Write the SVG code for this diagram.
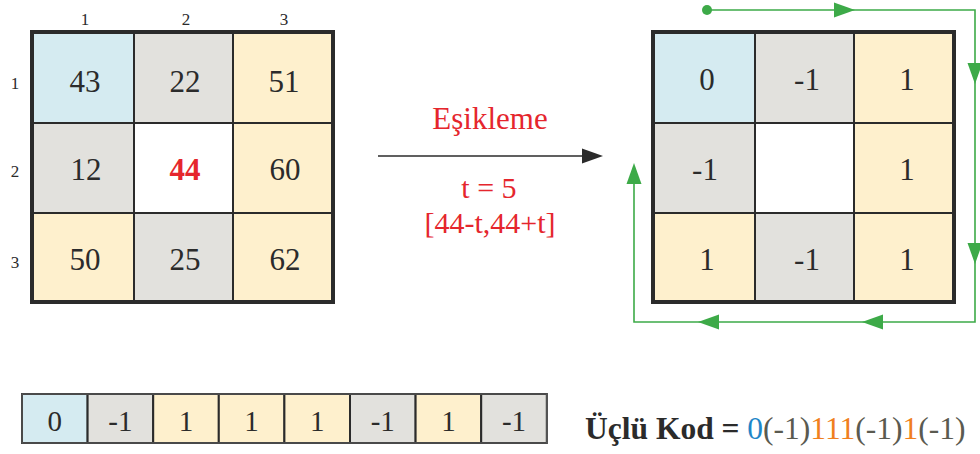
<svg xmlns="http://www.w3.org/2000/svg" width="980" height="454" viewBox="0 0 980 454">
<style>
.c{stroke:#2b2b2b;stroke-width:2}
.b{fill:#d5ebf1}.g{fill:#e2e1dd}.y{fill:#fef0cd}.w{fill:#ffffff}
text{font-family:"Liberation Serif","Times New Roman","DejaVu Serif",serif}
.t{font-size:31px;fill:#2b2b2b;text-anchor:middle}
.s{font-size:17px;fill:#2b2b2b;text-anchor:middle}
.r{font-size:31px;fill:#e5262d;text-anchor:middle}
.frame{fill:none;stroke:#2b2b2b;stroke-width:4}
.gl{fill:none;stroke:#3daa48;stroke-width:1.6}
.ga{fill:#3daa48}
</style>
<defs>
<path id="ah" d="M0,0 L-21,-7.5 L-21,7.5 Z"/>
</defs>
<rect width="980" height="454" fill="#ffffff"/>
<g id="labels">
<text class="s" x="85" y="25">1</text>
<text class="s" x="186" y="25">2</text>
<text class="s" x="284" y="25">3</text>
<text class="s" x="15" y="89">1</text>
<text class="s" x="15" y="177">2</text>
<text class="s" x="15" y="268">3</text>
</g>
<g id="left-grid">
<g id="L11"><rect class="c b" x="32" y="32" width="102" height="91"/><text class="t" x="85" y="92">43</text></g>
<g id="L12"><rect class="c g" x="134" y="32" width="99" height="91"/><text class="t" x="185" y="92">22</text></g>
<g id="L13"><rect class="c y" x="233" y="32" width="100" height="91"/><text class="t" x="284" y="92">51</text></g>
<g id="L21"><rect class="c g" x="32" y="123" width="102" height="90"/><text class="t" x="86" y="180">12</text></g>
<g id="L22"><rect class="c w" x="134" y="123" width="99" height="90"/><text class="t" x="185" y="180" style="font-weight:bold;fill:#e5262d">44</text></g>
<g id="L23"><rect class="c y" x="233" y="123" width="100" height="90"/><text class="t" x="285" y="180">60</text></g>
<g id="L31"><rect class="c y" x="32" y="213" width="102" height="89"/><text class="t" x="85" y="270">50</text></g>
<g id="L32"><rect class="c g" x="134" y="213" width="99" height="89"/><text class="t" x="185" y="270">25</text></g>
<g id="L33"><rect class="c y" x="233" y="213" width="100" height="89"/><text class="t" x="285" y="270">62</text></g>
<rect class="frame" x="32" y="32" width="301" height="270"/>
</g>
<g id="right-grid">
<g id="R11"><rect class="c b" x="653" y="32" width="102" height="91"/><text class="t" x="707" y="90">0</text></g>
<g id="R12"><rect class="c g" x="755" y="32" width="99" height="91"/><text class="t" x="807" y="90">-1</text></g>
<g id="R13"><rect class="c y" x="854" y="32" width="100" height="91"/><text class="t" x="907" y="90">1</text></g>
<g id="R21"><rect class="c g" x="653" y="123" width="102" height="90"/><text class="t" x="705" y="180">-1</text></g>
<g id="R22"><rect class="c w" x="755" y="123" width="99" height="90"/></g>
<g id="R23"><rect class="c y" x="854" y="123" width="100" height="90"/><text class="t" x="907" y="180">1</text></g>
<g id="R31"><rect class="c y" x="653" y="213" width="102" height="89"/><text class="t" x="707" y="270">1</text></g>
<g id="R32"><rect class="c g" x="755" y="213" width="99" height="89"/><text class="t" x="807" y="270">-1</text></g>
<g id="R33"><rect class="c y" x="854" y="213" width="100" height="89"/><text class="t" x="907" y="270">1</text></g>
<rect class="frame" x="653" y="32" width="301" height="270"/>
</g>
<g id="threshold-label">
<text class="r" x="490" y="129">Eşikleme</text>
<text class="r" x="489" y="198" style="font-size:30px">t = 5</text>
<text class="r" x="490" y="233" style="font-size:30px">[44-t,44+t]</text>
</g>
<g id="connectors">
<line x1="378" y1="156" x2="584" y2="156" stroke="#2b2b2b" stroke-width="1.6"/>
<use href="#ah" transform="translate(603,156)" fill="#2b2b2b"/>
<circle class="ga" cx="707" cy="10" r="5"/>
<polyline class="gl" points="707,10 975,10 975,322 634,322 634,170"/>
<use class="ga" href="#ah" transform="translate(855,10)"/>
<use class="ga" href="#ah" transform="translate(975,84) rotate(90)"/>
<use class="ga" href="#ah" transform="translate(975,264) rotate(90)"/>
<use class="ga" href="#ah" transform="translate(862,322) rotate(180)"/>
<use class="ga" href="#ah" transform="translate(698,322) rotate(180)"/>
<use class="ga" href="#ah" transform="translate(634,163) rotate(-90)"/>
</g>
<g id="code-strip">
<g id="S1"><rect class="c b" x="22" y="394" width="65.6" height="49"/><text class="t" x="54.8" y="431" style="font-size:29px">0</text></g>
<g id="S2"><rect class="c g" x="87.6" y="394" width="65.6" height="49"/><text class="t" x="120.4" y="431" style="font-size:29px">-1</text></g>
<g id="S3"><rect class="c y" x="153.2" y="394" width="65.6" height="49"/><text class="t" x="186" y="431" style="font-size:29px">1</text></g>
<g id="S4"><rect class="c y" x="218.8" y="394" width="65.6" height="49"/><text class="t" x="251.6" y="431" style="font-size:29px">1</text></g>
<g id="S5"><rect class="c y" x="284.4" y="394" width="65.6" height="49"/><text class="t" x="317.2" y="431" style="font-size:29px">1</text></g>
<g id="S6"><rect class="c g" x="350" y="394" width="65.6" height="49"/><text class="t" x="382.8" y="431" style="font-size:29px">-1</text></g>
<g id="S7"><rect class="c y" x="415.6" y="394" width="65.6" height="49"/><text class="t" x="448.4" y="431" style="font-size:29px">1</text></g>
<g id="S8"><rect class="c g" x="481.2" y="394" width="65.6" height="49"/><text class="t" x="514" y="431" style="font-size:29px">-1</text></g>
<rect x="22" y="394" width="524.8" height="49" fill="none" stroke="#555" stroke-width="1.5"/>
</g>
<g id="code-text">
<text x="585" y="439" style="font-size:31.5px;fill:#5a5a50"><tspan style="font-weight:bold;fill:#2b2b2b">Üçlü Kod = </tspan><tspan fill="#1f86c8">0</tspan>(-1)<tspan fill="#f07f1e">111</tspan>(-1)<tspan fill="#f07f1e">1</tspan>(-1)</text>
</g>
</svg>
